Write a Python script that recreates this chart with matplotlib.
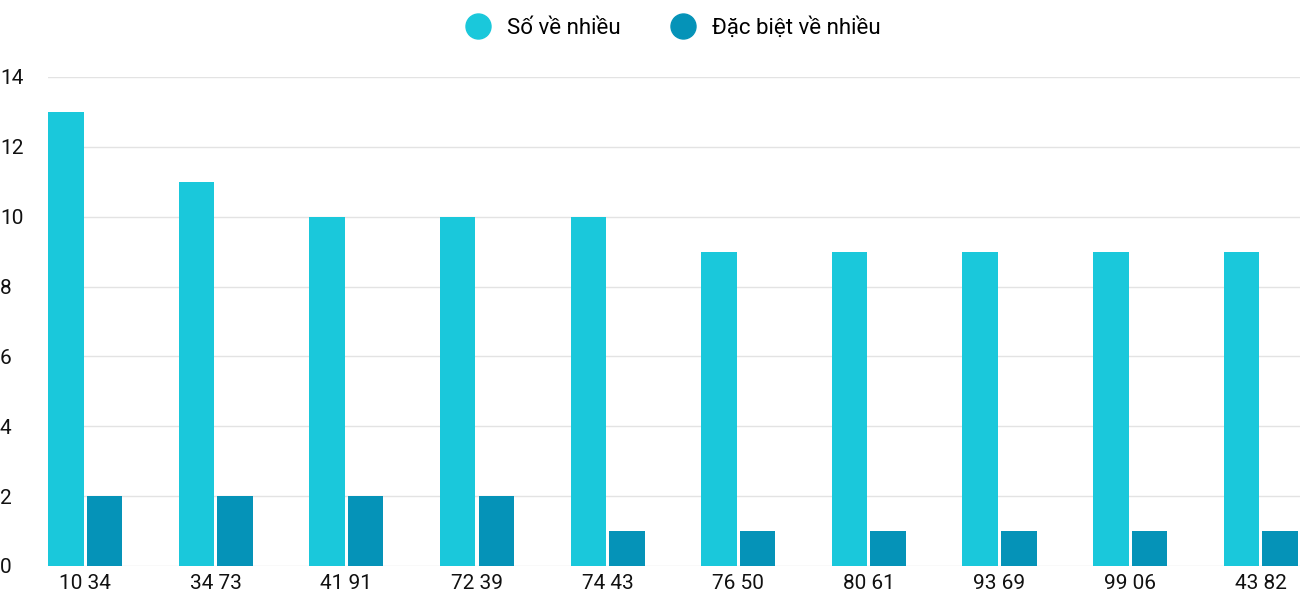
import matplotlib
matplotlib.use("Agg")
import matplotlib.pyplot as plt
from matplotlib.lines import Line2D
import numpy as np

categories = ["10 34","34 73","41 91","72 39","74 43","76 50","80 61","93 69","99 06","43 82"]
so_ve_nhieu = [13,11,10,10,10,9,9,9,9,9]
dac_biet = [2,2,2,2,1,1,1,1,1,1]
c1, c2 = "#1AC8DB", "#0593B8"

plt.rcParams['font.family'] = ['Roboto', 'DejaVu Sans']
fig = plt.figure(figsize=(13, 6), dpi=100)
ax = fig.add_axes([0.037, 0.0567, 0.963, 0.815])
x = np.arange(len(categories))
w = 0.272
ax.bar(x - 0.148, so_ve_nhieu, w, color=c1, zorder=3)
ax.bar(x + 0.148, dac_biet, w, color=c2, zorder=3)
ax.set_xlim(-0.283, 9.30)
ax.set_ylim(0, 14)
ax.set_yticks(range(0, 15, 2))
ax.set_xticks(x)
ax.set_xticklabels(categories, fontsize=15, color="#111111")
ax.tick_params(axis='y', labelsize=15, colors="#111111", length=0, pad=18)
ax.tick_params(axis='x', length=0, pad=6)
for lab in ax.get_yticklabels():
    lab.set_horizontalalignment('left')
    lab.set_x(-0.037/0.963)
ax.yaxis.set_tick_params(pad=0)
ax.grid(axis='y', color="#e3e3e3", linewidth=1, zorder=0)
for s in ax.spines.values():
    s.set_visible(False)
handles = [Line2D([], [], marker='o', linestyle='', markersize=18, color=c1),
           Line2D([], [], marker='o', linestyle='', markersize=18, color=c2)]
fig.legend(handles, ["Số về nhiều", "Đặc biệt về nhiều"], loc='upper center',
           bbox_to_anchor=(0.514, 1.005), ncol=2, frameon=False, fontsize=16,
           handletextpad=0.3, columnspacing=1.8)
fig.savefig("out.png", dpi=100)
